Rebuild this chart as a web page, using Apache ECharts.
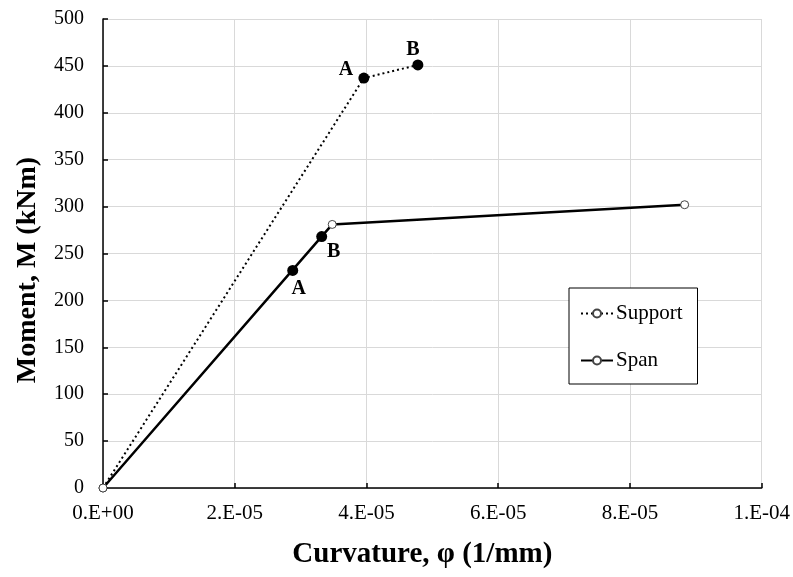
<!DOCTYPE html>
<html>
<head>
<meta charset="utf-8">
<script src="https://cdn.jsdelivr.net/npm/echarts@6/dist/echarts.min.js"></script>
<style>
  html, body { margin: 0; padding: 0; background: #fff; }
  #chart { width: 793px; height: 577px; }
</style>
</head>
<body>
<div id="chart"></div>
<script>
// Moment–curvature response of the beam at support and at span
const supportCurvature = [0, 3.96e-5, 4.78e-5];
const supportMoment = [0, 437, 451];
const spanCurvature = [0, 3.48e-5, 8.83e-5];
const spanMoment = [0, 281, 302];

// Marked points A and B on each curve
const supportMarkCurvature = [3.96e-5, 4.78e-5];
const supportMarkMoment = [437, 451];
const supportMarkNames = ['A', 'B'];
const spanMarkCurvature = [2.88e-5, 3.32e-5];
const spanMarkMoment = [232, 268];
const spanMarkNames = ['A', 'B'];

const xTickLabels = ['0.E+00', '2.E-05', '4.E-05', '6.E-05', '8.E-05', '1.E-04'];

const pairs = (xs, ys) => xs.map((x, i) => [x, ys[i]]);
const FONT = '"Liberation Serif", "DejaVu Serif", serif';

// label offsets (px) of the A / B letters from their points
const supportLabelOffsets = [[-18, -8], [-5, -15]];
const spanLabelOffsets = [[6, 18], [12, 15]];

const chart = echarts.init(document.getElementById('chart'), null, { renderer: 'canvas' });

const markLabel = {
  show: true,
  position: 'inside',
  formatter: (p) => p.value[2],
  fontFamily: FONT,
  fontWeight: 'bold',
  fontSize: 20,
  color: '#000',
  opacity: 1,
  textBorderWidth: 0
};

const markData = (xs, ys, names, offsets) => xs.map((x, i) => ({
  value: [x, ys[i], names[i]],
  label: { offset: offsets[i] }
}));

chart.setOption({
  animation: false,
  backgroundColor: '#fff',
  grid: { left: 103, top: 19, right: 31, bottom: 89, containLabel: false },
  xAxis: {
    type: 'value',
    min: 0,
    max: 1e-4,
    interval: 2e-5,
    name: 'Curvature, φ (1/mm)',
    nameLocation: 'middle',
    nameGap: 67,
    nameTextStyle: {
      fontFamily: FONT, fontWeight: 'bold', fontSize: 29, color: '#000',
      verticalAlign: 'middle', padding: [0, 20, 0, 0]
    },
    axisLine: { show: true, lineStyle: { color: '#000', width: 1.5 } },
    axisTick: { show: true, inside: true, length: 5, lineStyle: { color: '#000', width: 1.5 } },
    axisLabel: {
      fontFamily: FONT, fontSize: 21, color: '#000', margin: 15,
      formatter: (v, i) => xTickLabels[i]
    },
    splitLine: { show: true, lineStyle: { color: '#d9d9d9', width: 1 } }
  },
  yAxis: {
    type: 'value',
    min: 0,
    max: 500,
    interval: 50,
    name: 'Moment, M (kNm)',
    nameLocation: 'middle',
    nameGap: 75,
    nameRotate: 90,
    nameTextStyle: {
      fontFamily: FONT, fontWeight: 'bold', fontSize: 28, color: '#000',
      verticalAlign: 'middle', padding: [0, 33, 0, 0]
    },
    axisLine: { show: true, lineStyle: { color: '#000', width: 1.5 } },
    axisTick: { show: true, inside: true, length: 5, lineStyle: { color: '#000', width: 1.5 } },
    axisLabel: { fontFamily: FONT, fontSize: 20, color: '#000', margin: 19 },
    splitLine: { show: true, lineStyle: { color: '#d9d9d9', width: 1 } }
  },
  legend: {
    data: ['Support', 'Span'],
    orient: 'vertical',
    left: 569,
    top: 288,
    padding: [15, 15, 13, 11],
    itemGap: 26,
    itemWidth: 32,
    itemHeight: 10,
    borderColor: '#000',
    borderWidth: 1,
    backgroundColor: '#fff',
    textStyle: { fontFamily: FONT, fontSize: 21, color: '#000', padding: [0, 0, 0, -2] }
  },
  series: [
    {
      name: 'Support',
      type: 'line',
      data: pairs(supportCurvature, supportMoment),
      symbol: 'circle',
      symbolSize: 8,
      showAllSymbol: true,
      lineStyle: { color: '#000', width: 2, type: [2, 3] },
      itemStyle: { color: '#fff', borderColor: '#444', borderWidth: 1 },
      z: 2
    },
    {
      name: 'Span',
      type: 'line',
      data: pairs(spanCurvature, spanMoment),
      symbol: 'circle',
      symbolSize: 8,
      showAllSymbol: true,
      lineStyle: { color: '#000', width: 2.5 },
      itemStyle: { color: '#fff', borderColor: '#444', borderWidth: 1 },
      z: 2
    },
    {
      name: 'Support points',
      type: 'scatter',
      symbol: 'circle',
      symbolSize: 11,
      itemStyle: { color: '#000', opacity: 1 },
      data: markData(supportMarkCurvature, supportMarkMoment, supportMarkNames, supportLabelOffsets),
      label: markLabel,
      z: 3
    },
    {
      name: 'Span points',
      type: 'scatter',
      symbol: 'circle',
      symbolSize: 11,
      itemStyle: { color: '#000', opacity: 1 },
      data: markData(spanMarkCurvature, spanMarkMoment, spanMarkNames, spanLabelOffsets),
      label: markLabel,
      z: 3
    }
  ]
});
</script>
</body>
</html>
